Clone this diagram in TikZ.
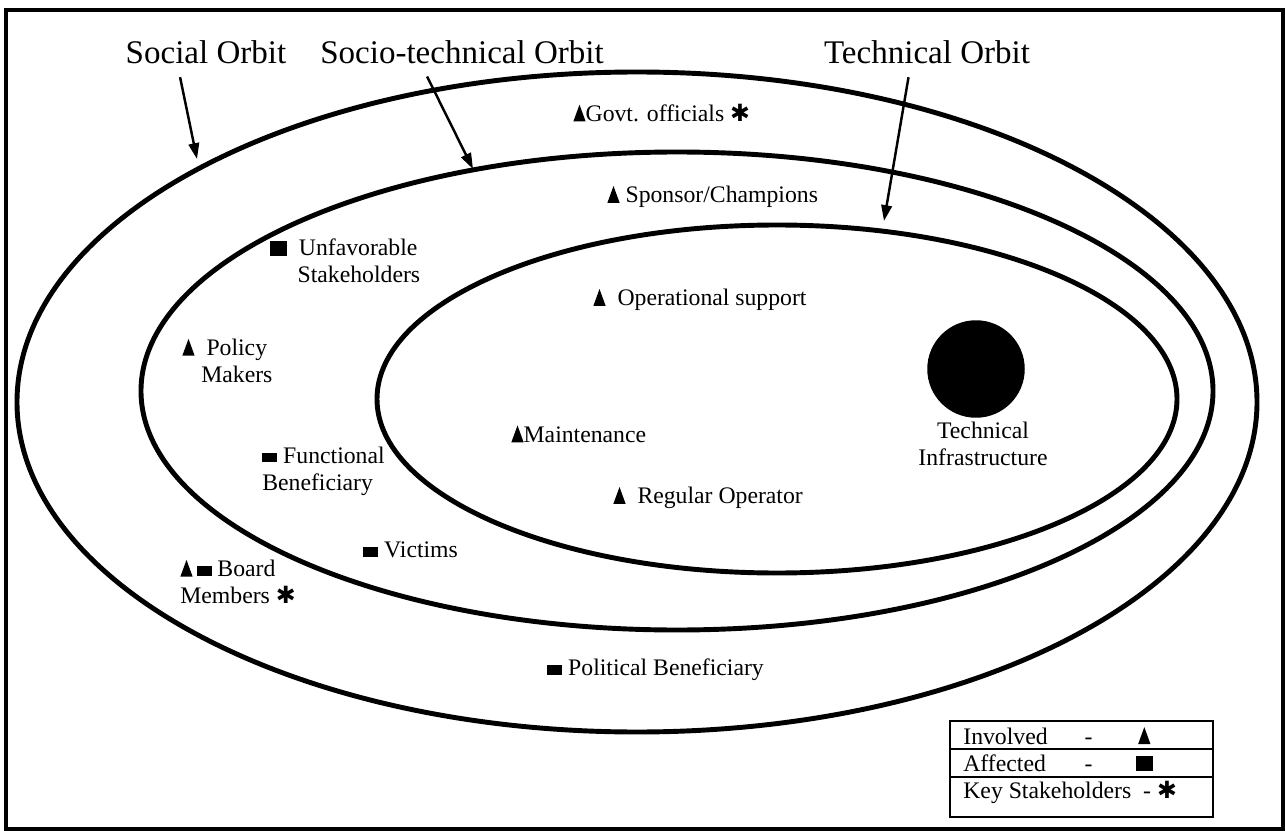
\documentclass[tikz,border=0pt]{standalone}
\usepackage{fontspec}
\setmainfont{Liberation Serif}
\newfontfamily\symfont{DejaVu Sans}
\usetikzlibrary{arrows.meta,positioning}

% marks used in the labels
\newcommand{\invsym}{\tikz[baseline=0pt]\fill (0pt,0pt) -- (7pt,0pt) -- (3.5pt,9.6pt) -- cycle;}
\newcommand{\affsym}{\tikz[baseline=0pt]\fill (0pt,0.4pt) rectangle (8.5pt,6pt);}
\newcommand{\affbig}{\tikz[baseline=0pt]\fill (0pt,0pt) rectangle (9.5pt,8.5pt);}
\newcommand{\keysym}{{\symfont ✱}}

\begin{document}
\begin{tikzpicture}[x=0.02cm,y=-0.02cm]
\tikzstyle{every node}=[font=\fontsize{13.5}{15.5}\selectfont]
\tikzstyle{orbit}=[line width=2.8pt]
\tikzstyle{title}=[font=\fontsize{18.8}{20}\selectfont]
\tikzstyle{pointer}=[line width=1.4pt,-{Triangle[length=9pt,width=6pt]},shorten <=0.15cm]
\tikzstyle{label}=[anchor=west,align=left,inner sep=0pt]
\tikzstyle{legrow}=[anchor=base west,inner sep=0pt]
\useasboundingbox (0,0) rectangle (1285,831);
\draw [line width=1.9pt] (6,10) rectangle (1283,829);

% the three orbits
\draw [orbit] (637,402) ellipse [x radius=620, y radius=330];
\draw [orbit] (677,391) ellipse [x radius=536, y radius=239];
\draw [orbit] (777,399) ellipse [x radius=400, y radius=174];

\node[title] (social) at (206,52) {Social Orbit};
\node[title] (socio) at (462,52) {Socio-technical Orbit};
\node[title] (tech) at (927,52) {Technical Orbit};
\coordinate (socialtip) at (197,159);
\coordinate (sociotip) at (473,169);
\coordinate (techtip) at (884,221);
\draw [pointer] (social.-147) -- (socialtip);
\draw [pointer] (socio.-155) -- (sociotip);
\draw [pointer] (tech.-134) -- (techtip);

\node[label] (govt) at (573,113) {\invsym Govt. officials \keysym};
\node[label] (sponsor) at (607,197) {\invsym\ Sponsor/Champions};
\node[label] (unfav) at (270,261) {\affbig\ \ Unfavorable\\\hspace*{1.15em}Stakeholders};
\node[label] (opsup) at (593,300) {\invsym\ \ Operational support};
\node[label] (policy) at (182,361) {\invsym\ \ Policy\\\hspace*{0.8em}Makers};
\node[label] (maint) at (511,434) {\invsym Maintenance};
\node[label] (func) at (262,471) {\affsym\ Functional\\Beneficiary};
\node[label] (regop) at (613,498) {\invsym\ \ Regular Operator};
\node[label] (victims) at (363,550) {\affsym\ Victims};
\node[label] (board) at (180,582) {\invsym\,\affsym\ Board\\Members \keysym};
\node[label] (polben) at (547,670) {\affsym\ Political Beneficiary};

% technical infrastructure
\node[circle,fill,minimum size=1.95cm,inner sep=0pt] (infra) at (976,369) {};
\node[align=center,below=1pt of infra,xshift=0.14cm,inner sep=1pt] (infralbl) {Technical\\Infrastructure};

% legend
\draw [line width=1.2pt] (950,721) rectangle (1213,817);
\draw [line width=1.2pt] (950,749) -- (1213,749);
\draw [line width=1.2pt] (950,777) -- (1213,777);
\node[legrow] (leginv) at (963,744) {\makebox[69pt][l]{Involved}-\hspace*{26pt}\invsym};
\node[legrow] (legaff) at (963,771) {\makebox[69pt][l]{Affected}-\hspace*{25pt}\affbig};
\node[legrow] (legkey) at (963,798) {Key Stakeholders \ - \keysym};
\end{tikzpicture}
\end{document}
